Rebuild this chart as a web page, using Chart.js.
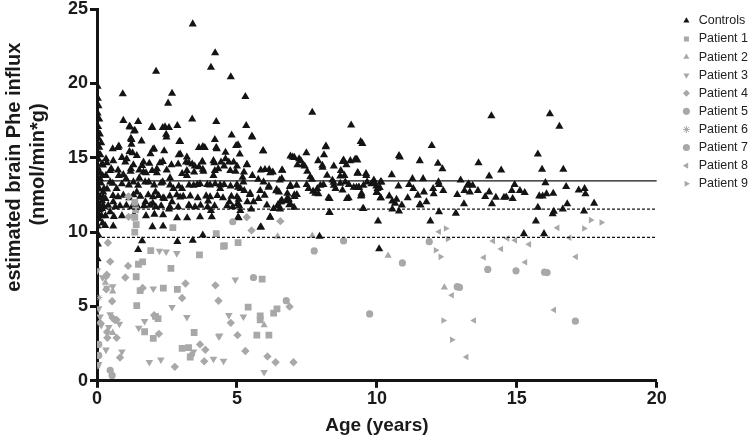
<!DOCTYPE html>
<html lang="en">
<head>
<meta charset="UTF-8">
<title>Brain Phe influx by age</title>
<script src="https://cdn.jsdelivr.net/npm/chart.js"></script>
<style>
  body { margin: 0; background: #fff; }
  #wrap { width: 750px; height: 437px; }
</style>
</head>
<body>
<div id="wrap"><canvas id="chart" width="750" height="437"></canvas></div>
<script>
// [age (years), estimated influx (nmol/min*g)]
const controls = [
  [0.02,19.8],[0.03,19.0],[0.05,18.5],[0.02,18.0],[0.08,17.6],[0.04,17.1],[0.1,16.6],[0.05,16.3],[0.15,16.0],[0.08,15.7],
  [0.02,15.4],[0.12,15.2],[0.05,14.9],[0.18,14.6],[0.03,14.3],[0.1,14.0],[0.2,13.8],[0.05,13.6],[0.14,13.3],[0.02,13.1],
  [0.08,12.9],[0.22,12.7],[0.04,12.5],[0.12,12.3],[0.18,12.1],[0.06,11.9],[0.25,11.7],[0.1,11.5],[0.03,11.3],[0.16,11.1],
  [0.07,10.9],[0.2,10.6],[0.02,10.4],[0.05,9.8],[0.03,9.2],[0.02,8.2],
  [0.92,19.3],[2.68,19.34],[2.54,18.67],[3.42,24.0],[4.22,22.06],[4.07,21.08],[2.11,20.81],[4.78,20.45],[5.30,19.12],[7.69,18.05],
  [3.40,17.6],[0.94,17.51],[1.47,17.43],[4.26,17.43],[1.18,17.07],[1.96,17.03],[2.35,17.03],[2.57,17.03],[2.87,17.16],[5.33,17.16],
  [9.08,17.2],[1.35,16.84],[2.47,16.58],[4.81,16.53],[5.55,16.40],[1.59,16.13],[1.21,16.31],[4.21,16.22],[2.97,16.09],[5.04,15.86],
  [3.64,15.69],[3.85,15.69],[4.26,15.69],[5.93,15.46],[2.04,15.6],[0.56,15.6],[0.75,15.69],[8.17,15.73],[7.48,15.33],[6.91,15.11],
  [7.05,15.02],[7.22,14.93],[9.22,14.89],[8.81,14.84],[0.32,14.93],[1.27,15.33],[1.06,14.93],[1.66,14.71],[2.35,14.75],[2.97,15.24],
  [3.18,14.71],[3.40,14.57],[3.76,14.75],[4.16,14.8],[4.59,14.93],[4.88,14.71],[5.35,14.53],[6.28,14.04],[6.62,14.15],[6.19,13.99],
  [7.36,14.53],[8.05,14.49],[8.46,14.44],[8.91,14.53],[9.31,13.99],[8.69,13.77],[8.22,13.82],[7.62,13.72],[7.98,13.15],[8.46,13.15],
  [9.0,13.19],[7.72,12.75],[8.31,12.25],[6.91,13.15],[7.14,12.52],[6.79,12.25],[6.55,12.03],[6.50,12.70],[6.14,13.10],[5.95,13.37],
  [5.83,12.79],[6.31,11.58],[6.07,11.81],[5.59,12.03],[5.23,13.37],[5.04,13.01],[5.55,13.81],[4.73,12.03],[5.02,11.92],[5.06,12.2],
  [5.12,11.45],[3.97,12.08],[4.40,12.92],[4.16,13.81],[3.80,14.08],[3.21,13.81],[3.45,13.15],[3.68,13.24],[3.04,12.92],[2.61,13.64],
  [2.73,12.92],[2.97,12.35],[2.68,12.03],[3.28,11.81],[4.07,11.45],[2.14,13.99],[1.85,13.37],[2.35,13.37],[2.09,12.70],[2.40,12.25],
  [1.99,11.94],[2.57,11.54],[1.73,12.03],[1.66,14.04],[1.51,13.64],[1.21,14.26],[1.30,13.37],[1.04,13.59],[0.78,13.81],[0.51,14.26],
  [0.47,13.37],[0.70,12.92],[0.94,12.48],[1.42,12.70],[0.58,12.03],[0.30,12.25],[0.32,13.81],[0.25,12.92],[0.18,11.58],[0.47,11.36],
  [1.97,17.07],[1.16,17.11],[2.43,17.07],[1.32,16.8],[2.48,16.4],[1.23,16.22],[1.23,15.91],[2.94,16.09],[4.28,15.6],[3.78,15.75],
  [0.78,15.78],[1.16,15.42],[2.0,15.57],[1.91,15.26],[2.40,15.46],[2.92,15.2],[3.21,15.04],[4.59,15.37],[4.97,15.82],[0.89,15.02],
  [1.42,15.15],[0.58,14.8],[0.35,14.66],[1.01,14.71],[1.30,14.53],[1.61,14.48],[1.87,14.62],[2.25,14.66],[2.66,14.53],[2.90,14.57],
  [3.28,14.66],[3.49,14.44],[3.77,14.71],[3.64,14.39],[4.19,14.66],[4.43,14.71],[4.71,14.71],[4.54,14.44],[0.21,14.5],[0.47,14.13],
  [0.75,14.17],[0.94,13.86],[1.20,14.08],[1.51,14.17],[1.75,13.99],[1.97,14.13],[2.14,14.26],[2.49,14.17],[3.04,13.94],[3.21,14.13],
  [3.47,14.04],[3.78,14.22],[4.21,14.13],[4.33,14.26],[4.76,14.13],[4.95,14.08],[5.0,14.44],[0.11,13.59],
  [0.56,13.28],[0.36,12.9],[0.89,13.24],[1.14,13.17],[1.47,13.15],[1.72,13.37],[2.04,13.17],[2.29,13.3],[2.61,13.17],[2.92,13.10],
  [3.29,13.17],[3.58,13.2],[3.94,13.2],[4.04,13.17],[4.22,13.25],[4.40,13.17],[4.54,13.2],[4.77,13.1],[5.0,13.2],
  [0.21,12.37],[0.57,12.45],[0.75,12.37],[1.15,12.3],[1.3,12.5],[1.55,12.4],[1.83,12.5],[2.0,12.37],[2.2,12.45],[2.36,12.3],
  [2.6,12.43],[2.85,12.5],[3.08,12.4],[3.33,12.43],[3.6,12.3],[3.9,12.43],[4.04,12.37],[4.3,12.45],[4.5,12.3],[4.8,12.4],[5.0,12.37],
  [0.2,11.76],[0.4,11.8],[0.65,11.7],[0.82,11.76],[1.05,11.8],[1.25,11.7],[1.43,11.76],[1.68,11.76],[1.9,11.8],[2.1,11.7],
  [2.29,11.76],[2.6,11.7],[2.9,11.7],[3.3,11.76],[3.5,11.7],[3.7,11.8],[3.95,11.7],[4.2,11.76],[4.65,11.76],[4.85,11.7],[5.08,11.76],
  [0.3,11.1],[0.6,11.05],[0.89,11.1],[1.32,11.16],[1.75,11.1],[2.05,11.2],[2.36,11.16],[2.86,10.96],[3.22,10.96],[3.68,11.03],[4.1,11.03],
  [0.29,10.43],[0.58,10.4],[1.98,10.36],[2.36,10.4],
  [1.47,8.82],[1.61,9.41],[2.87,9.36],[3.42,9.45],[3.78,9.8],[5.04,11.0],[5.86,10.34],[6.19,11.0],[7.95,9.71],[8.31,11.32],
  [5.53,16.44],[5.10,15.24],[5.94,15.46],[8.18,15.78],[9.42,16.09],[9.48,15.96],[6.99,15.04],[8.11,15.2],[7.28,14.8],[7.16,14.53],
  [7.42,14.44],[7.9,14.8],[8.78,14.75],[9.3,14.85],[8.06,14.35],[7.51,14.08],[6.61,14.17],[5.85,14.17],[6.0,14.2],[6.15,14.2],
  [5.36,14.55],[5.25,14.04],[8.71,14.13],[9.32,13.99],[9.61,13.94],[10.16,13.37],[10.1,13.0],[5.20,13.68],[5.76,13.55],[6.53,13.5],
  [6.6,13.6],[6.89,13.06],[7.13,13.15],[7.49,13.19],[7.68,13.55],[7.56,12.92],[7.87,12.92],[8.09,13.19],[8.41,13.5],[8.45,13.35],
  [8.52,12.92],[8.69,13.28],[8.87,13.37],[9.27,13.01],[9.35,13.0],[9.52,13.15],[9.80,13.24],[9.9,13.3],[10.02,12.92],[10.14,12.3],
  [9.99,12.65],[9.45,12.48],[9.45,12.6],[8.99,12.3],[8.27,12.3],[7.91,12.57],[7.8,12.6],[7.06,12.39],[7.05,12.5],[6.8,12.61],
  [6.8,12.1],[6.85,12.2],[6.58,12.03],[6.6,12.15],[6.40,12.77],[6.42,12.85],[6.13,13.01],[5.99,12.48],[5.77,12.25],[5.46,12.52],
  [5.47,12.6],[5.26,12.79],[5.13,12.92],[5.37,12.03],[5.04,11.9],[6.46,11.83],[6.5,11.75],[6.87,11.83],[6.92,11.85],[7.04,11.67],
  [6.54,11.54],[5.51,11.54],[8.30,11.32],[9.52,11.58],[6.18,11.01],[5.06,10.96],[10.04,10.74],[5.84,10.34],
  [9.05,14.8],[9.27,14.89],[9.31,13.95],[9.62,13.81],[8.84,13.81],[9.65,13.37],[9.89,13.5],[10.13,13.37],[9.98,13.10],[9.17,13.01],
  [9.36,13.01],[8.77,12.83],[10.0,12.70],[9.43,12.43],[8.93,12.25],[9.50,11.58],[10.13,12.3],[10.08,8.87],[10.79,15.15],[10.82,15.05],
  [10.53,13.86],[10.77,13.10],[10.44,12.43],[10.55,12.08],[10.65,11.94],[10.7,12.2],[10.55,11.54],[10.79,11.41],[10.89,11.81],[11.10,12.3],
  [11.15,13.19],[11.27,13.59],[11.30,12.92],[11.46,12.48],[11.53,14.8],[11.53,11.85],[11.65,13.59],[11.68,12.70],[11.77,12.03],[11.96,15.82],
  [12.01,12.92],[12.03,12.57],[11.91,10.74],[12.18,14.62],[12.34,14.26],[12.2,13.37],[12.22,13.2],[12.37,12.79],[12.22,11.36],[12.82,11.27],
  [12.87,12.52],[12.99,13.5],[13.11,11.90],[13.13,12.79],[13.23,13.15],[13.28,13.25],[13.32,12.70],[13.42,13.15],[13.61,12.79],[13.63,14.66],
  [13.87,12.39],[14.01,13.77],[14.01,12.70],[14.11,11.90],[14.25,12.34],[14.44,14.17],[14.54,12.34],[14.62,12.36],[14.82,12.79],[14.85,12.25],
  [14.92,13.19],[15.11,12.79],[15.28,12.65],[15.25,9.89],[14.09,17.82],[15.68,10.74],[15.75,15.24],[15.75,11.67],[15.80,12.43],[15.90,14.22],
  [15.92,12.42],[15.97,9.89],[16.02,13.32],[16.06,12.57],[16.18,17.96],[16.28,11.23],[16.32,11.4],[16.30,12.61],[16.52,17.11],[16.64,11.54],
  [16.66,14.22],[16.76,13.06],[16.80,11.90],[17.21,12.83],[17.42,12.92],[17.45,12.57],[17.40,11.41],[17.76,11.94],[11.56,11.81]
];
const patient1 = [
  [1.35,12.0],[1.38,11.5],[1.35,11.0],[1.40,10.5],[1.35,10.0],[2.71,10.3],[4.26,9.9],[4.55,9.1],[5.04,9.3],[1.92,8.76],
  [3.66,8.47],[1.48,7.84],[1.63,8.0],[2.64,7.57],[1.40,7.0],[5.9,6.84],[1.54,6.06],[2.37,6.24],[2.87,6.15],[1.42,5.06],
  [5.40,4.95],[6.43,4.84],[6.31,4.55],[5.83,4.37],[5.83,4.10],[2.18,4.19],[2.09,4.34],[1.70,3.30],[3.47,3.25],[2.01,2.85],
  [5.71,3.07],[6.14,3.07],[3.27,2.23],[3.33,1.60],[3.04,2.18],[4.52,9.04]
];
const patient2 = [[0.56,6.02],[0.56,3.23],[5.97,3.74],[6.45,9.71],[7.69,9.76],[10.4,8.42],[12.41,6.28],[0.3,6.6]];
const patient3 = [
  [1.30,11.03],[2.23,8.74],[2.47,8.69],[2.85,8.58],[4.94,6.80],[2.01,6.20],[0.01,7.42],[0.20,6.95],[0.56,6.35],[0.35,6.24],
  [2.68,4.95],[0.06,4.86],[0.11,4.32],[0.47,4.46],[0.80,3.83],[0.15,3.74],[1.49,3.56],[1.70,4.01],[3.21,4.28],[4.71,4.41],
  [5.23,4.32],[4.38,3.03],[0.32,2.09],[0.89,1.96],[0.06,1.11],[1.87,1.25],[2.28,1.42],[4.16,1.47],[4.52,1.34],[3.45,1.96],
  [5.97,0.58],[0.42,3.61],[4.35,2.99]
];
const patient4 = [
  [1.12,12.4],[1.13,11.03],[5.35,11.0],[6.55,10.74],[5.52,10.12],[0.39,9.29],[0.47,8.02],[0.32,7.02],[1.11,7.73],[1.01,6.95],
  [0.35,7.13],[1.63,6.24],[3.16,6.55],[4.23,6.42],[3.04,5.57],[4.34,5.39],[0.54,5.35],[6.88,4.99],[0.56,4.23],[0.70,4.10],
  [4.78,3.90],[2.04,4.41],[2.21,3.16],[0.70,2.89],[0.37,2.89],[5.02,3.07],[3.68,2.45],[3.87,2.09],[5.30,2.0],[6.09,1.64],
  [3.83,1.31],[3.37,1.74],[2.78,0.94],[6.38,1.25],[7.02,1.25],[0.82,1.56],[0.33,6.15],[0.11,3.9],[0.64,4.08],[0.36,3.28]
];
const patient5 = [[0.06,2.45],[0.06,1.71],[0.47,0.71],[0.54,0.36],[4.85,10.70],[5.59,6.95],[6.76,5.39],[7.76,8.74],[8.81,9.41]];
const patient6 = [[0.03,1.0],[0.08,5.6]];
const patient7 = [[9.74,4.50],[10.91,7.93],[11.87,9.36],[12.87,6.33],[12.95,6.28],[13.96,7.49],[14.97,7.40],[15.99,7.31],[16.08,7.28],[17.09,4.01]];
const patient8 = [
  [12.22,10.03],[12.68,5.75],[13.47,4.06],[13.20,1.60],[13.82,8.29],[14.15,9.41],[14.44,8.87],[14.66,9.58],[14.94,9.45],[15.44,9.18],
  [15.30,7.97],[16.45,10.29],[16.88,9.63],[17.11,8.34],[16.33,4.77]
];
const patient9 = [[12.46,10.25],[12.53,9.54],[12.10,8.78],[12.27,8.34],[12.37,4.06],[12.68,2.76],[17.40,10.25],[17.64,10.81],[18.02,10.65]];

// reference lines: mean and lower limits
const refLevels = [13.45, 11.55, 9.65];
const refDashed = [false, true, true];
const ageRange = [0, 20];

const xTicks = [0, 5, 10, 15, 20];
const yTicks = [0, 5, 10, 15, 20, 25];

const BLACK = '#141414';
const GRAY = '#a8a8a8';

const toPts = arr => arr.map(p => ({ x: p[0], y: p[1] }));

function series(label, data, color, style, radius, rotation) {
  return {
    label: label,
    data: toPts(data),
    backgroundColor: color,
    borderColor: color,
    borderWidth: style === 'star' ? 1 : 0,
    pointStyle: style,
    pointRadius: radius,
    pointRotation: rotation || 0,
    order: label === 'Controls' ? 2 : 1
  };
}

const datasets = [
  series('Controls', controls, BLACK, 'triangle', 4.7),
  series('Patient 1', patient1, GRAY, 'rect', 4.8),
  series('Patient 2', patient2, GRAY, 'triangle', 4.2),
  series('Patient 3', patient3, GRAY, 'triangle', 4.4, 180),
  series('Patient 4', patient4, GRAY, 'rectRot', 4.2),
  series('Patient 5', patient5, GRAY, 'circle', 3.6),
  series('Patient 6', patient6, GRAY, 'star', 3.2),
  series('Patient 7', patient7, GRAY, 'circle', 3.6),
  series('Patient 8', patient8, GRAY, 'triangle', 3.8, 270),
  series('Patient 9', patient9, GRAY, 'triangle', 3.8, 90)
];

refLevels.forEach((lv, i) => {
  datasets.push({
    label: 'ref' + i,
    data: [{ x: ageRange[0], y: lv }, { x: ageRange[1], y: lv }],
    showLine: true,
    borderColor: BLACK,
    borderWidth: 1.4,
    borderDash: refDashed[i] ? [3, 2] : [],
    pointRadius: 0,
    order: 0
  });
});

Chart.defaults.font.family = "'Liberation Sans', Arial, sans-serif";
Chart.defaults.color = '#1a1a1a';

// keep the legend where it sits in the figure but leave a gap before the plot
const legendGap = {
  id: 'legendGap',
  beforeInit(chart) {
    const fit = chart.legend.fit;
    chart.legend.fit = function () {
      fit.bind(chart.legend)();
      this.width += 10;
    };
  },
  afterLayout(chart) {
    chart.legend.left += 18;
    chart.legend.top += 9;
  }
};

const axisFont = { size: 18, weight: 'bold', lineHeight: 0.8 };

new Chart(document.getElementById('chart'), {
  type: 'scatter',
  data: { datasets: datasets },
  options: {
    responsive: false,
    animation: false,
    layout: { padding: { left: 2, top: 0, bottom: 0, right: 0 } },
    plugins: {
      tooltip: { enabled: false },
      legend: {
        position: 'right',
        align: 'start',
        labels: {
          usePointStyle: true,
          boxWidth: 12,
          boxHeight: 5,
          padding: 5.6,
          color: '#222',
          font: { size: 12.5 },
          filter: item => item.datasetIndex < 10,
          sort: (a, b) => a.datasetIndex - b.datasetIndex
        }
      }
    },
    scales: {
      x: {
        type: 'linear',
        min: 0,
        max: 20,
        afterBuildTicks: s => { s.ticks = xTicks.map(v => ({ value: v })); },
        ticks: { font: axisFont, color: '#1a1a1a', padding: 4 },
        grid: { drawOnChartArea: false, drawTicks: true, tickLength: 7, tickWidth: 3, tickColor: BLACK },
        border: { display: true, width: 3, color: BLACK },
        title: { display: true, text: 'Age (years)', font: { size: 19, weight: 'bold' }, color: '#1a1a1a', padding: { top: 4, bottom: 0 } }
      },
      y: {
        min: 0,
        max: 25,
        afterBuildTicks: s => { s.ticks = yTicks.map(v => ({ value: v })); },
        ticks: { font: axisFont, color: '#1a1a1a', padding: 2 },
        grid: { drawOnChartArea: false, drawTicks: true, tickLength: 7, tickWidth: 3, tickColor: BLACK },
        border: { display: true, width: 3, color: BLACK },
        title: {
          display: true,
          text: ['          estimated brain Phe influx', '           (nmol/min*g)'],
          font: { size: 20, weight: 'bold', lineHeight: 1.2 },
          color: '#1a1a1a',
          padding: { top: 0, bottom: 16 }
        }
      }
    }
  },
  plugins: [legendGap]
});
</script>
</body>
</html>
